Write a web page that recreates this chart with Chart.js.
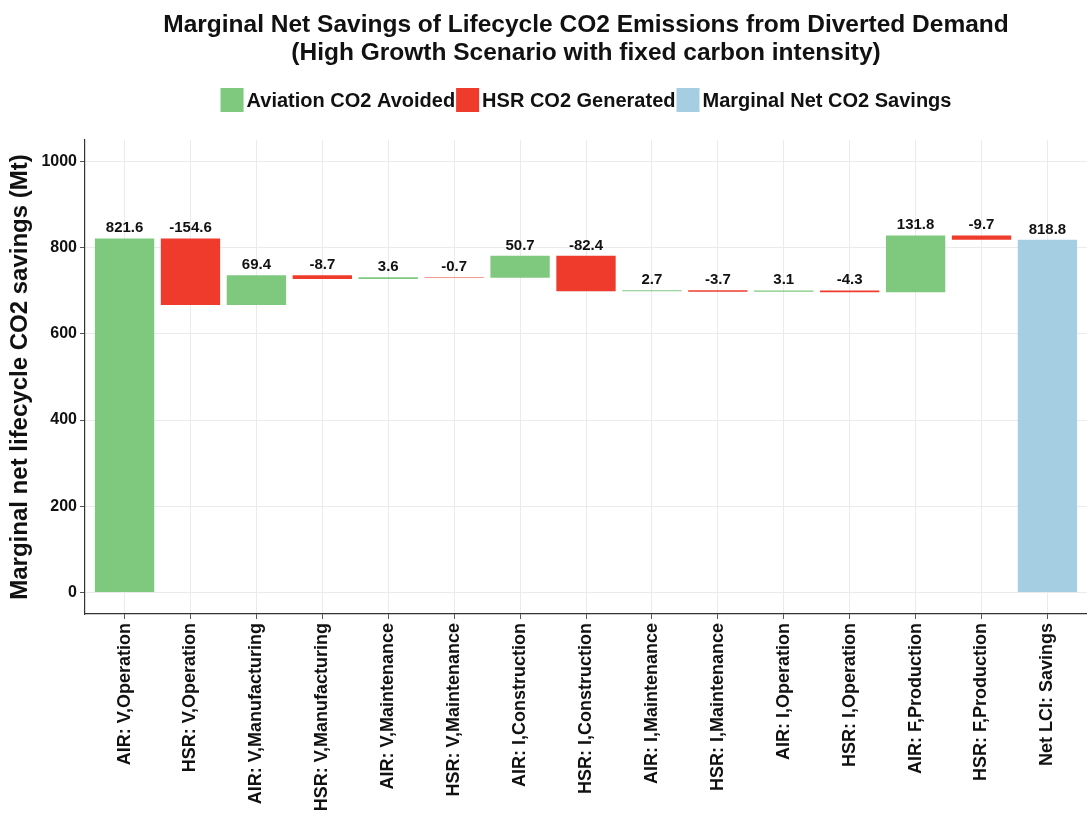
<!DOCTYPE html>
<html>
<head>
<meta charset="utf-8">
<script src="https://cdn.jsdelivr.net/npm/chart.js@4.4.1/dist/chart.umd.min.js"></script>
<style>
  html, body { margin: 0; padding: 0; background: #ffffff; }
  #wrap { width: 1087px; height: 813px; position: relative; }
</style>
</head>
<body>
<div id="wrap"><canvas id="c"></canvas></div>
<script>
// Lifecycle stages, in waterfall order
const categories = [
  'AIR: V,Operation', 'HSR: V,Operation', 'AIR: V,Manufacturing', 'HSR: V,Manufacturing',
  'AIR: V,Maintenance', 'HSR: V,Maintenance', 'AIR: I,Construction', 'HSR: I,Construction',
  'AIR: I,Maintenance', 'HSR: I,Maintenance', 'AIR: I,Operation', 'HSR: I,Operation',
  'AIR: F,Production', 'HSR: F,Production', 'Net LCI: Savings'
];
// Change contributed by each stage (Mt CO2); positive = aviation avoided, negative = HSR generated
const changes = [821.6, -154.6, 69.4, -8.7, 3.6, -0.7, 50.7, -82.4, 2.7, -3.7, 3.1, -4.3, 131.8, -9.7];
// Final net savings bar (Mt CO2)
const netSavings = 818.8;
const yTicks = [0, 200, 400, 600, 800, 1000];
const seriesNames = ['Aviation CO2 Avoided', 'HSR CO2 Generated', 'Marginal Net CO2 Savings'];
const seriesColors = ['#7fc97f', '#ee3b2c', '#a6cee3'];
const titleLines = [
  'Marginal Net Savings of Lifecycle CO2 Emissions from Diverted Demand',
  '(High Growth Scenario with fixed carbon intensity)'
];
const yTitle = 'Marginal net lifecycle CO2 savings (Mt)';

// Build floating [start, end] segments for the waterfall
const avoided = [], generated = [], net = [];
let running = 0;
changes.forEach((v, i) => {
  const start = running;
  running = Math.round((running + v) * 10) / 10;
  (v >= 0 ? avoided : generated).push({ x: i + 1, y: [start, running], v: v });
});
net.push({ x: categories.length, y: [0, netSavings], v: netSavings });

const BOLD = 'bold';
const sansFamily = '"Liberation Sans", Arial, sans-serif';

// Value labels above each bar
const valueLabels = {
  id: 'valueLabels',
  afterDatasetsDraw(chart) {
    const ctx = chart.ctx;
    ctx.save();
    ctx.font = 'bold 15px ' + sansFamily;
    ctx.fillStyle = '#111111';
    ctx.textAlign = 'center';
    ctx.textBaseline = 'alphabetic';
    chart.data.datasets.forEach((ds, di) => {
      const meta = chart.getDatasetMeta(di);
      meta.data.forEach((el, i) => {
        const raw = ds.data[i];
        const top = Math.min(el.y, el.base);
        ctx.fillText(raw.v.toFixed(1), el.x, top - 6);
      });
    });
    ctx.restore();
  }
};

// Title and legend centred over the plotting panel
const headerBlock = {
  id: 'headerBlock',
  afterDraw(chart) {
    const ctx = chart.ctx;
    const area = chart.chartArea;
    const cx = (area.left + area.right) / 2;
    ctx.save();
    ctx.fillStyle = '#111111';
    ctx.textAlign = 'center';
    ctx.textBaseline = 'middle';
    ctx.font = 'bold 24.5px ' + sansFamily;
    ctx.fillText(titleLines[0], cx, 25);
    ctx.fillText(titleLines[1], cx, 53);

    // legend row
    ctx.font = 'bold 20px ' + sansFamily;
    const box = 23, gapBox = 3, gapItem = 1;
    const widths = seriesNames.map(n => ctx.measureText(n).width);
    const total = widths.reduce((a, w) => a + box + gapBox + w + gapItem, 0) - gapItem;
    let x = cx - total / 2;
    const yMid = 100;
    ctx.textAlign = 'left';
    chart.data.datasets.forEach((ds, i) => {
      ctx.fillStyle = ds.backgroundColor;
      ctx.fillRect(x, yMid - 12, box, 24);
      x += box + gapBox;
      ctx.fillStyle = '#111111';
      ctx.fillText(ds.label, x, yMid + 1);
      x += widths[i] + gapItem;
    });
    ctx.restore();
  }
};

const makeSet = (i, data) => ({
  label: seriesNames[i],
  data: data,
  backgroundColor: seriesColors[i],
  borderWidth: 0,
  grouped: false,
  barPercentage: 0.9,
  categoryPercentage: 1.0
});

new Chart(document.getElementById('c'), {
  type: 'bar',
  data: {
    datasets: [makeSet(0, avoided), makeSet(1, generated), makeSet(2, net)]
  },
  options: {
    responsive: true,
    maintainAspectRatio: false,
    animation: false,
    layout: { padding: { top: 140, right: 0, left: 0, bottom: 0 } },
    plugins: {
      legend: { display: false },
      title: { display: false },
      tooltip: { enabled: false }
    },
    scales: {
      x: {
        type: 'linear',
        min: 0.4,
        max: categories.length + 0.6,
        offset: false,
        afterBuildTicks(scale) {
          scale.ticks = categories.map((c, i) => ({ value: i + 1 }));
        },
        afterFit(scale) { scale.height = 199; },
        ticks: {
          autoSkip: false,
          maxRotation: 90,
          minRotation: 90,
          padding: 4,
          color: '#111111',
          font: { family: sansFamily, size: 18, weight: BOLD },
          callback: (v) => categories[Math.round(v) - 1]
        },
        grid: { offset: false, color: '#ebebeb', lineWidth: 1, tickLength: 5, tickColor: '#555555' },
        border: { display: true, color: '#333333', width: 1.2 }
      },
      y: {
        min: -50,
        max: 1050,
        afterBuildTicks(scale) {
          scale.ticks = yTicks.map(v => ({ value: v }));
        },
        afterFit(scale) { scale.width = 85; },
        ticks: {
          padding: 3,
          color: '#111111',
          font: { family: sansFamily, size: 16, weight: BOLD },
          callback: (v) => String(v)
        },
        grid: { color: '#ebebeb', lineWidth: 1, tickLength: 5, tickColor: '#555555' },
        border: { display: true, color: '#333333', width: 1.2 },
        title: {
          display: true,
          text: yTitle,
          color: '#111111',
          padding: { top: 6, bottom: 2 },
          font: { family: sansFamily, size: 24, weight: BOLD }
        }
      }
    }
  },
  plugins: [valueLabels, headerBlock]
});
</script>
</body>
</html>
